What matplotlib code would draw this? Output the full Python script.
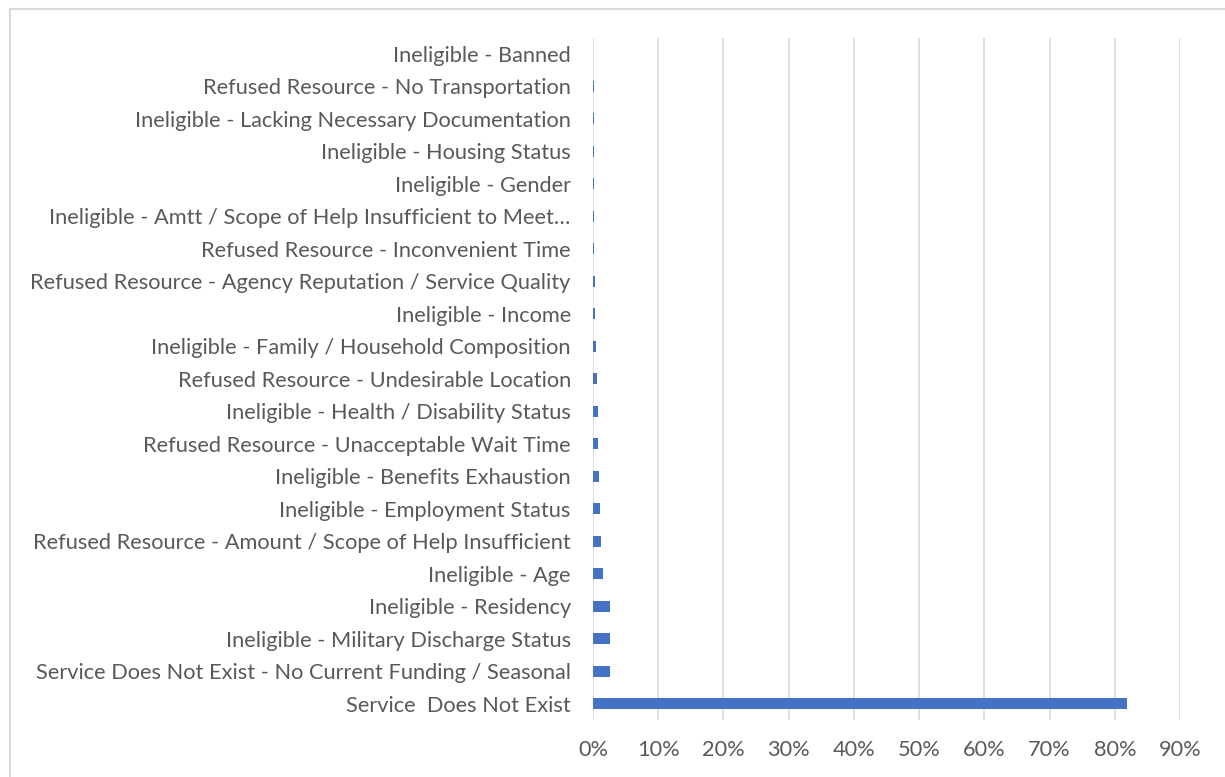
import matplotlib
matplotlib.use('Agg')
import matplotlib.pyplot as plt
from matplotlib.lines import Line2D
from matplotlib.ticker import PercentFormatter

categories = [
    'Service  Does Not Exist',
    'Service Does Not Exist - No Current Funding / Seasonal',
    'Ineligible - Military Discharge Status',
    'Ineligible - Residency',
    'Ineligible - Age',
    'Refused Resource - Amount / Scope of Help Insufficient',
    'Ineligible - Employment Status',
    'Ineligible - Benefits Exhaustion',
    'Refused Resource - Unacceptable Wait Time',
    'Ineligible - Health / Disability Status',
    'Refused Resource - Undesirable Location',
    'Ineligible - Family / Household Composition',
    'Ineligible - Income',
    'Refused Resource - Agency Reputation / Service Quality',
    'Refused Resource - Inconvenient Time',
    'Ineligible - Amtt / Scope of Help Insufficient to Meet\u2026',
    'Ineligible - Gender',
    'Ineligible - Housing Status',
    'Ineligible - Lacking Necessary Documentation',
    'Refused Resource - No Transportation',
    'Ineligible - Banned',
]
shares = [81.8, 2.6, 2.55, 2.55, 1.6, 1.2, 1.0, 0.85, 0.8, 0.7, 0.6,
          0.4, 0.35, 0.35, 0.2, 0.15, 0.15, 0.15, 0.1, 0.1, 0.03]

plt.rcParams['font.family'] = ['Lato', 'DejaVu Sans']

fig = plt.figure(figsize=(12.25, 7.77), dpi=100)
ax = fig.add_axes([593 / 1225, 1 - 720 / 777, (1180 - 593) / 1225, (720 - 37.75) / 777])

ax.barh(range(len(categories)), shares, height=0.34, color='#4472c4')
ax.set_xlim(0, 90)
ax.set_ylim(-0.5, len(categories) - 0.5)
ax.set_xticks(range(0, 91, 10))
ax.xaxis.set_major_formatter(PercentFormatter(decimals=0))
ax.set_yticks(range(len(categories)))
ax.set_yticklabels(categories)
ax.grid(axis='x', color='#d9d9d9', linewidth=1.2)
ax.set_axisbelow(True)
for s in ax.spines.values():
    s.set_visible(False)
ax.tick_params(length=0, labelsize=15.7, labelcolor='#595959')
ax.tick_params(axis='x', pad=14.5)
ax.tick_params(axis='y', pad=16)

fig.add_artist(Line2D([10 / 1225, 10 / 1225], [0, 1 - 9 / 777], color='#d9d9d9', lw=1.5))
fig.add_artist(Line2D([10 / 1225, 1], [1 - 9 / 777, 1 - 9 / 777], color='#d9d9d9', lw=1.5))

fig.savefig('out.png', dpi=100)
